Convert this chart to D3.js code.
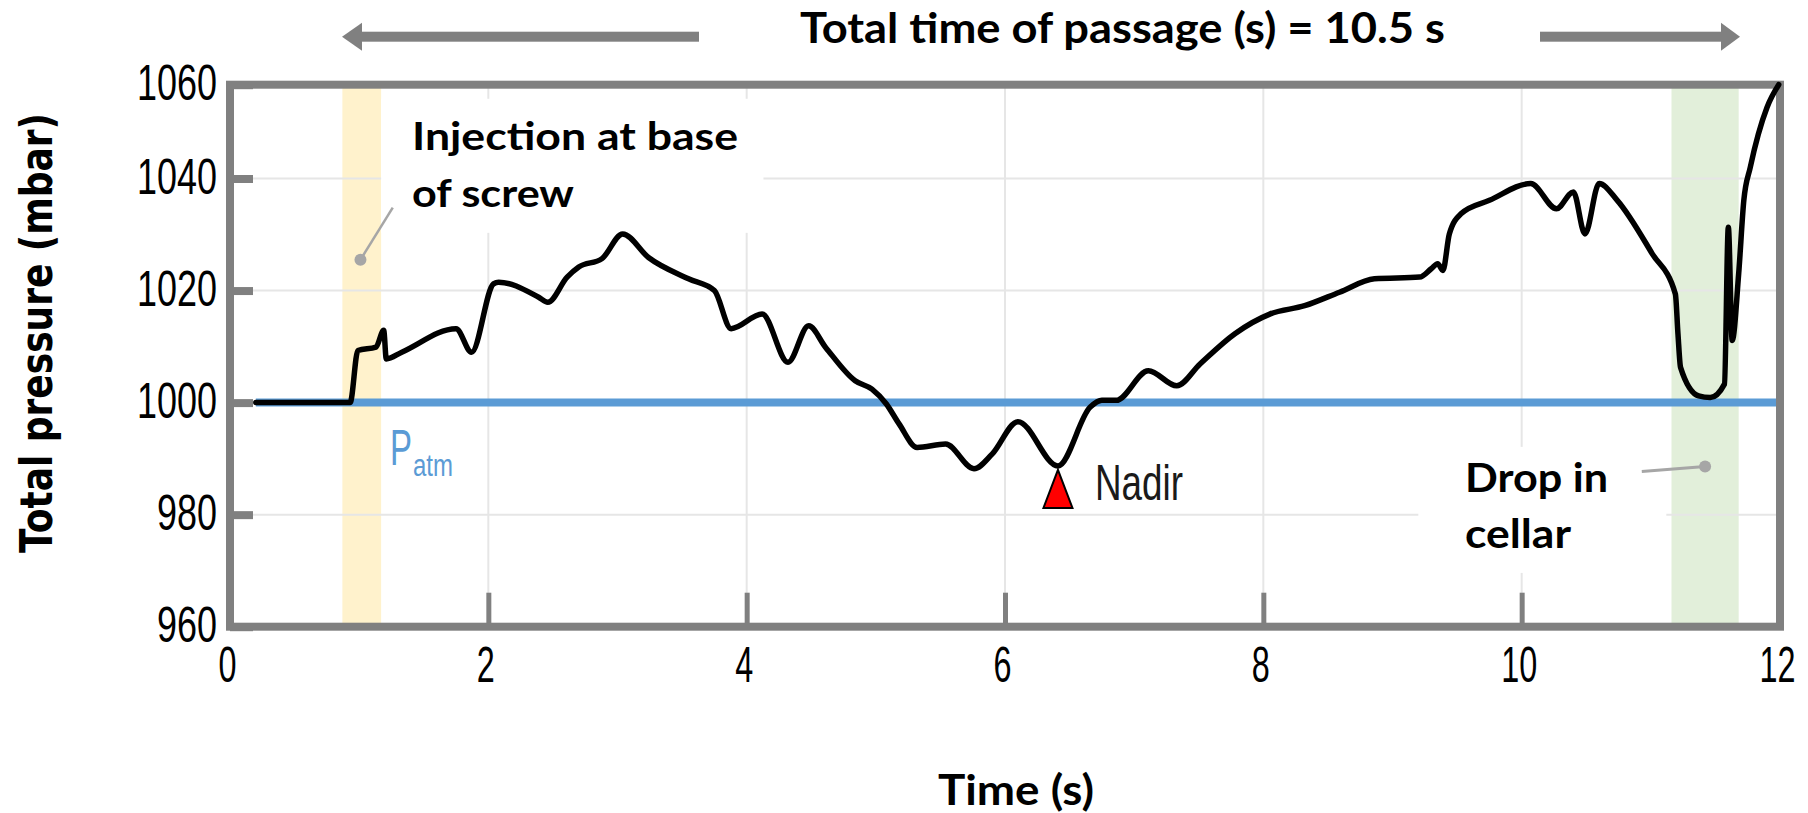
<!DOCTYPE html>
<html>
<head>
<meta charset="utf-8">
<script src="https://cdn.jsdelivr.net/npm/d3@7"></script>
<style>
  body { margin: 0; background: #ffffff; }
  svg { display: block; }
</style>
</head>
<body>
<script>
// Total pressure along the passage (time in s, pressure in mbar)
const time = [0.2, 0.93, 0.99, 1.13, 1.19, 1.21, 1.33, 1.75, 1.87, 2.04, 2.08, 2.39, 2.46,
  2.61, 2.70, 2.88, 3.04, 3.24, 3.55, 3.75, 3.88, 4.12, 4.32, 4.48, 4.61,
  4.84, 4.97, 5.08, 5.18, 5.32, 5.54, 5.76, 5.90, 6.10, 6.41, 6.66, 6.75,
  6.86, 7.11, 7.33, 7.51, 7.78, 8.05, 8.32, 8.59, 8.86, 9.21, 9.30, 9.35,
  9.39, 9.44, 9.53, 9.75, 10.07, 10.27, 10.40, 10.49, 10.60, 10.74, 11.01, 11.19,
  11.21, 11.23, 11.37, 11.46, 11.57, 11.60, 11.63, 11.68, 11.72, 11.77, 11.90, 11.99];
const pressure = [1000, 1000, 1009.3, 1009.9, 1012.9, 1007.8, 1009.0, 1013.2, 1009.0, 1021.2, 1021.5, 1018.8, 1017.9,
  1022.4, 1024.2, 1025.7, 1030.1, 1025.9, 1022.1, 1020.0, 1013.2, 1015.8, 1007.2, 1013.7, 1009.9,
  1003.9, 1002.4, 999.8, 996.2, 992.0, 992.6, 988.2, 990.8, 996.6, 988.7, 999.2, 1000.4,
  1000.4, 1005.7, 1003.0, 1006.9, 1012.3, 1015.8, 1017.3, 1019.7, 1022.1, 1022.4, 1023.9, 1024.8,
  1023.6, 1030.1, 1033.7, 1036.1, 1039.1, 1034.6, 1037.6, 1030.1, 1039.1, 1036.1, 1026.6, 1019.4,
  1012.3, 1006.3, 1001.2, 1000.9, 1003.3, 1031.3, 1011.1, 1023.0, 1036.1, 1042.4, 1055.2, 1060];

const xTicks = [0, 2, 4, 6, 8, 10, 12];
const yTicks = [960, 980, 1000, 1020, 1040, 1060];
const gridX = [2, 4, 6, 8, 10];
const gridY = [980, 1000, 1020, 1040];
const patm = 1000;                 // atmospheric pressure reference
const patmStart = 0.2;
const injectionBand = [0.87, 1.17];
const cellarBand = [11.16, 11.68];
const nadirTime = 6.41;
const nadirPressure = 988.7;

const W = 1808, H = 813;
const plot = { left: 230, right: 1780, top: 84.7, bottom: 626.7 };

const x = d3.scaleLinear().domain([0, 12]).range([plot.left, plot.right]);
// the top interval of the axis is drawn shorter than the others
const y = d3.scaleLinear().domain([960, 1040, 1060]).range([plot.bottom, 178.5, plot.top]);

const svg = d3.select("body").append("svg")
  .attr("width", W).attr("height", H)
  .attr("viewBox", `0 0 ${W} ${H}`);

const fit = (sel, len) => sel.attr("textLength", len).attr("lengthAdjust", "spacingAndGlyphs");

// highlighted time windows
svg.append("rect")
  .attr("x", x(injectionBand[0])).attr("y", plot.top)
  .attr("width", x(injectionBand[1]) - x(injectionBand[0]))
  .attr("height", plot.bottom - plot.top)
  .attr("fill", "#fff2cc");
svg.append("rect")
  .attr("x", x(cellarBand[0])).attr("y", plot.top)
  .attr("width", x(cellarBand[1]) - x(cellarBand[0]))
  .attr("height", plot.bottom - plot.top)
  .attr("fill", "#e2efda");

// grid
const grid = svg.append("g").attr("stroke", "#e6e6e6").attr("stroke-width", 2);
grid.selectAll("line.gx").data(gridX).join("line")
  .attr("x1", d => x(d)).attr("x2", d => x(d))
  .attr("y1", plot.top).attr("y2", plot.bottom);
grid.selectAll("line.gy").data(gridY).join("line")
  .attr("x1", plot.left).attr("x2", plot.right)
  .attr("y1", d => y(d)).attr("y2", d => y(d));

// text box backgrounds
svg.append("rect")
  .attr("x", x(1.17)).attr("y", y(1057))
  .attr("width", x(4.13) - x(1.17)).attr("height", y(1030.3) - y(1057))
  .attr("fill", "#ffffff");
svg.append("rect")
  .attr("x", x(9.2)).attr("y", y(992.1))
  .attr("width", x(11.12) - x(9.2)).attr("height", y(969.6) - y(992.1))
  .attr("fill", "#ffffff");

// atmospheric pressure line
svg.append("line")
  .attr("x1", x(patmStart)).attr("x2", x(12))
  .attr("y1", y(patm)).attr("y2", y(patm))
  .attr("stroke", "#5b9bd5").attr("stroke-width", 8);

// axes
const yAxis = d3.axisLeft(y).tickValues(yTicks)
  .tickSizeInner(-23).tickSizeOuter(0).tickPadding(13).tickFormat(d3.format("d"));
const gy = svg.append("g").attr("transform", `translate(${plot.left},0)`).call(yAxis);
gy.select(".domain").remove();
gy.selectAll(".tick line").attr("stroke", "#808080").attr("stroke-width", 8);
gy.selectAll(".tick text")
  .attr("fill", "#000").attr("dy", "0.3em")
  .style("font-family", "'Liberation Sans', Arial, sans-serif").style("font-size", "50px")
  .each(function(d) { fit(d3.select(this), String(d).length * 20); });

const xAxis = d3.axisBottom(x).tickValues(xTicks)
  .tickSizeInner(-34).tickSizeOuter(0).tickPadding(20).tickFormat(d3.format("d"));
const gx = svg.append("g").attr("transform", `translate(0,${plot.bottom})`).call(xAxis);
gx.select(".domain").remove();
gx.selectAll(".tick line").attr("stroke", "#808080").attr("stroke-width", 5);
gx.selectAll(".tick text")
  .attr("fill", "#000").attr("dx", -3)
  .style("font-family", "'Liberation Sans', Arial, sans-serif").style("font-size", "50px")
  .each(function(d) { fit(d3.select(this), String(d).length * 18); });

// plot frame
svg.append("rect")
  .attr("x", plot.left).attr("y", plot.top)
  .attr("width", plot.right - plot.left).attr("height", plot.bottom - plot.top)
  .attr("fill", "none").attr("stroke", "#808080").attr("stroke-width", 8);

// pressure curve
const line = d3.line()
  .x(i => x(time[i]))
  .y(i => y(pressure[i]))
  .curve(d3.curveMonotoneX);
svg.append("path")
  .datum(d3.range(time.length))
  .attr("d", line)
  .attr("fill", "none")
  .attr("stroke", "#000")
  .attr("stroke-width", 5.5)
  .attr("stroke-linejoin", "round")
  .attr("stroke-linecap", "round");

// nadir marker
const nx = x(nadirTime), ny = y(nadirPressure) + 4;
svg.append("path")
  .attr("d", `M${nx},${ny}L${nx + 14.5},${ny + 38}L${nx - 14.5},${ny + 38}Z`)
  .attr("fill", "#ff0000").attr("stroke", "#000").attr("stroke-width", 2);
fit(svg.append("text")
  .attr("x", nx + 37).attr("y", ny + 30)
  .attr("fill", "#1a1a1a")
  .style("font-family", "'Liberation Sans', Arial, sans-serif").style("font-size", "50px")
  .text("Nadir"), 88);

// P_atm label
const patmLabel = svg.append("g").attr("fill", "#5b9bd5")
  .style("font-family", "'Liberation Sans', Arial, sans-serif");
fit(patmLabel.append("text").attr("x", 390).attr("y", y(patm) + 62)
  .style("font-size", "50px").text("P"), 22);
fit(patmLabel.append("text").attr("x", 413).attr("y", y(patm) + 73)
  .style("font-size", "31px").text("atm"), 40);

// annotations with leader lines
const boldFont = "Lato, 'Open Sans', sans-serif";
const ann = svg.append("g").style("font-family", boldFont).style("font-weight", "700").attr("fill", "#000");
fit(ann.append("text").attr("x", 412).attr("y", 150).style("font-size", "39px").text("Injection at base"), 326);
fit(ann.append("text").attr("x", 412).attr("y", 207).style("font-size", "39px").text("of screw"), 162);
fit(ann.append("text").attr("x", 1465).attr("y", 492).style("font-size", "40px").text("Drop in"), 143);
fit(ann.append("text").attr("x", 1465).attr("y", 548).style("font-size", "40px").text("cellar"), 106);

const leaders = svg.append("g").attr("stroke", "#a6a6a6").attr("fill", "#a6a6a6");
leaders.append("line").attr("x1", x(1.26)).attr("y1", y(1034.8)).attr("x2", x(1.01)).attr("y2", y(1025.5))
  .attr("stroke-width", 2.5);
leaders.append("circle").attr("cx", x(1.01)).attr("cy", y(1025.5)).attr("r", 6).attr("stroke", "none");
leaders.append("line").attr("x1", x(10.93)).attr("y1", y(987.7)).attr("x2", x(11.42)).attr("y2", y(988.6))
  .attr("stroke-width", 3);
leaders.append("circle").attr("cx", x(11.42)).attr("cy", y(988.6)).attr("r", 6).attr("stroke", "none");

// axis titles
fit(svg.append("text")
  .attr("transform", "translate(52,333) rotate(-90)")
  .attr("text-anchor", "middle")
  .style("font-family", "'DejaVu Sans', Verdana, sans-serif").style("font-weight", "700").style("font-size", "44px")
  .attr("fill", "#000")
  .text("Total pressure (mbar)"), 440);
fit(svg.append("text")
  .attr("x", 1016).attr("y", 805).attr("text-anchor", "middle")
  .style("font-family", boldFont).style("font-weight", "700").style("font-size", "42px")
  .attr("fill", "#000")
  .text("Time (s)"), 156);

// passage duration header with arrows
const arrows = svg.append("g").attr("fill", "#808080");
arrows.append("rect").attr("x", 361).attr("y", 31.7).attr("width", 338).attr("height", 10);
arrows.append("path").attr("d", "M342,36.7L362,22.7L362,50.7Z");
arrows.append("rect").attr("x", 1540).attr("y", 31.7).attr("width", 183).attr("height", 10);
arrows.append("path").attr("d", "M1740,36.7L1721,22.7L1721,50.7Z");
fit(svg.append("text")
  .attr("x", 800).attr("y", 43)
  .style("font-family", boldFont).style("font-weight", "700").style("font-size", "42px")
  .attr("fill", "#000")
  .text("Total time of passage (s) = 10.5 s"), 645);
</script>
</body>
</html>
